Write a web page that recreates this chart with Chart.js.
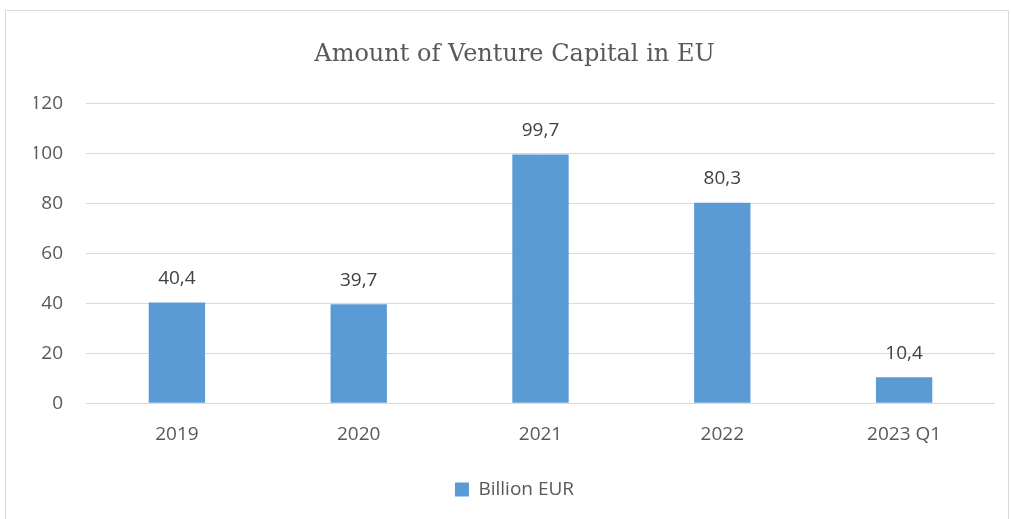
<!DOCTYPE html>
<html>
<head>
<meta charset="utf-8">
<script src="https://cdn.jsdelivr.net/npm/chart.js@4/dist/chart.umd.min.js"></script>
<style>
  body { margin: 0; background: #fff; }
  #frame {
    position: absolute; left: 5px; top: 10px;
    width: 1004px; height: 512px;
    border: 1px solid #d9d9d9; box-sizing: border-box;
  }
  #chartArea { display: block; }
</style>
</head>
<body>
<div id="frame"><canvas id="chartArea" width="1002" height="510"></canvas></div>
<script>
// Chart data
var years = ['2019', '2020', '2021', '2022', '2023 Q1'];
var amounts = [40.4, 39.7, 99.7, 80.3, 10.4];
var yTicks = [0, 20, 40, 60, 80, 100, 120];

var barColor = '#5B9BD5';
var textColor = '#595959';
var sansFont = "'Open Sans', 'Liberation Sans', sans-serif";

// Draws the value above each bar, with a comma as decimal separator
var valueLabels = {
  id: 'valueLabels',
  afterDatasetsDraw: function(chart) {
    var ctx = chart.ctx;
    var meta = chart.getDatasetMeta(0);
    ctx.save();
    ctx.font = '19px ' + sansFont;
    ctx.fillStyle = '#404040';
    ctx.textAlign = 'center';
    ctx.textBaseline = 'middle';
    meta.data.forEach(function(bar, i) {
      var txt = amounts[i].toFixed(1).replace('.', ',');
      ctx.fillText(txt, bar.x, bar.y - 24);
    });
    ctx.restore();
  }
};

var ctx = document.getElementById('chartArea').getContext('2d');
window.vcChart = new Chart(ctx, {
  type: 'bar',
  data: {
    labels: years,
    datasets: [{
      label: 'Billion EUR',
      data: amounts,
      backgroundColor: barColor,
      barPercentage: 0.31,
      categoryPercentage: 1.0
    }]
  },
  options: {
    responsive: false,
    animation: false,
    layout: { padding: { left: 28, right: 13, top: 0, bottom: 12 } },
    plugins: {
      title: {
        display: true,
        text: 'Amount of Venture Capital in EU',
        color: textColor,
        font: { family: "'DejaVu Serif', serif", size: 24, weight: 'normal' },
        padding: { top: 29, bottom: 35 }
      },
      legend: {
        position: 'bottom',
        labels: {
          color: textColor,
          font: { family: sansFont, size: 19 },
          boxWidth: 14,
          boxHeight: 14,
          padding: 14
        }
      },
      tooltip: { enabled: false }
    },
    scales: {
      x: {
        grid: { display: false, drawTicks: false },
        border: { display: false },
        ticks: { color: textColor, font: { family: sansFont, size: 19 }, padding: 20 }
      },
      y: {
        min: 0,
        max: 120,
        afterBuildTicks: function(axis) {
          axis.ticks = yTicks.map(function(v) { return { value: v }; });
        },
        afterFit: function(axis) { axis.width = 52; },
        grid: { color: '#d9d9d9', lineWidth: 1, drawTicks: false },
        border: { display: false },
        ticks: { color: textColor, font: { family: sansFont, size: 19 }, padding: 23 }
      }
    }
  },
  plugins: [valueLabels]
});
</script>
</body>
</html>
